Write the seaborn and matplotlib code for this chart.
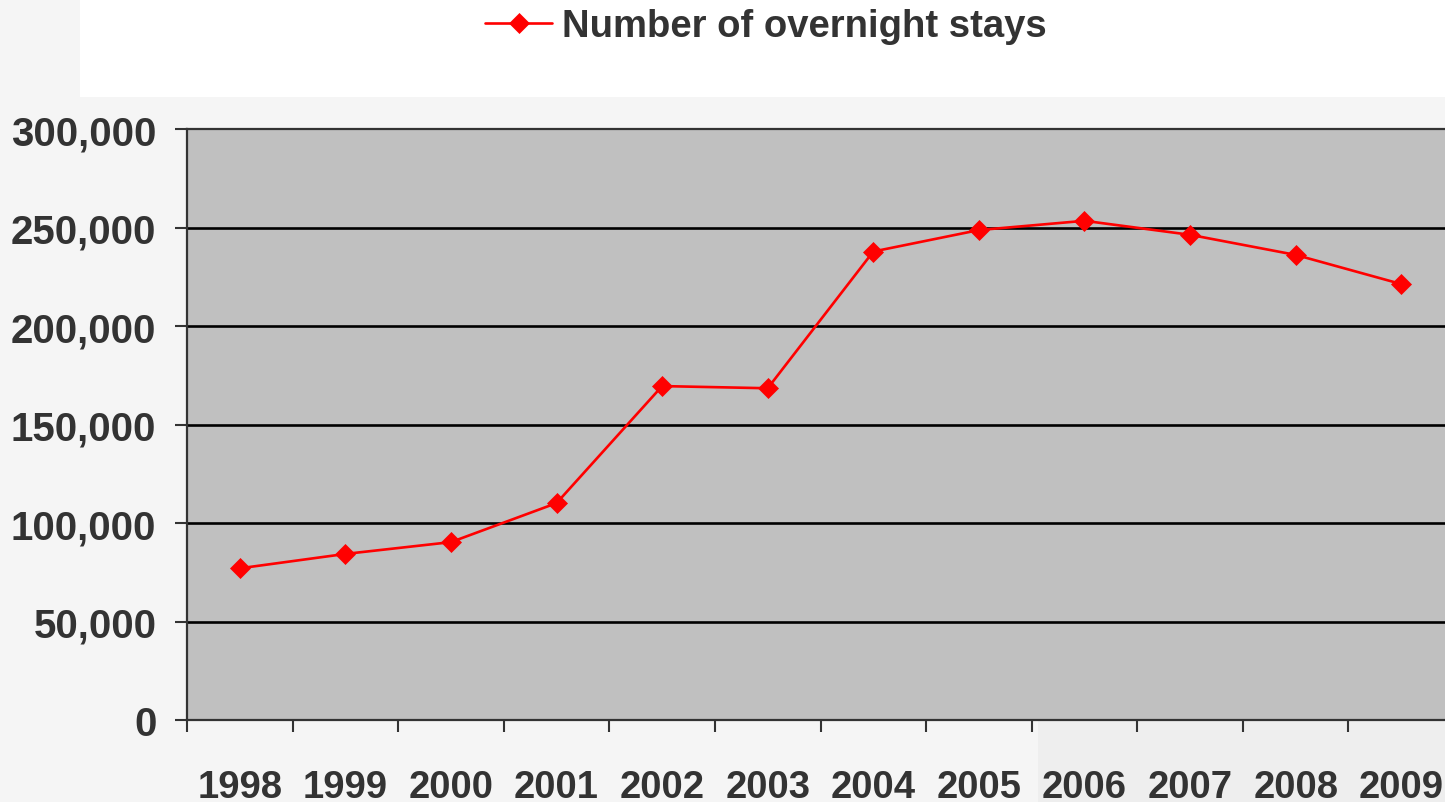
import matplotlib
matplotlib.use("Agg")
import matplotlib.pyplot as plt
import matplotlib.patches as mpatches
from matplotlib.ticker import FuncFormatter, FixedLocator
import seaborn as sns
import pandas as pd
import numpy as np

years = ["1998", "1999", "2000", "2001", "2002", "2003",
         "2004", "2005", "2006", "2007", "2008", "2009"]
stays = [77000, 84300, 90300, 110100, 169500, 168400,
         237800, 248700, 253400, 246300, 236100, 221300]
series_name = "Number of overnight stays"
y_ticks = [0, 50000, 100000, 150000, 200000, 250000, 300000]

sns.set_theme(style="white")
plt.rcParams['font.family'] = ['Liberation Sans', 'DejaVu Sans']
plt.rcParams['font.weight'] = 'bold'

TXT = "#333333"
df = pd.DataFrame({"pos": np.arange(len(years)), "value": stays, "series": series_name})

fig = plt.figure(figsize=(14.45, 8.03), dpi=100)
fig.patch.set_facecolor("#f5f5f5")
# white band at top
fig.patches.append(mpatches.Rectangle((80/1445, 1-98/803), 1, 98/803,
                                      transform=fig.transFigure, facecolor="white",
                                      edgecolor="none", zorder=-5))
# slightly darker lower right area
fig.patches.append(mpatches.Rectangle((1038/1445, 0), 1, 1-722/803,
                                      transform=fig.transFigure, facecolor="#eeeeee",
                                      edgecolor="none", zorder=-5))

ax = fig.add_axes([187/1445, 1-721/803, 1267/1445, 591/803])
ax.set_facecolor("#c0c0c0")

sns.lineplot(data=df, x="pos", y="value", hue="series", palette=["#ff0000"],
             marker="D", markersize=10, markeredgewidth=0.5, markeredgecolor="#ff0000",
             linewidth=1.9, ax=ax, legend=True, zorder=5)

ax.set_xlim(-0.5, len(years) - 0.5)
ax.set_ylim(0, 300000)

ax.yaxis.set_major_locator(FixedLocator(y_ticks))
ax.yaxis.set_major_formatter(FuncFormatter(lambda v, p: f"{int(v):,}"))
for yv in y_ticks[1:-1]:
    ax.axhline(yv, color="black", linewidth=1.9, zorder=2)

ax.set_xticks(np.arange(-0.5, len(years)), minor=False)
ax.set_xticklabels([""] * (len(years) + 1))
ax.set_xticks(np.arange(len(years)), minor=True)
ax.set_xticklabels(years, minor=True)
ax.tick_params(axis="x", which="major", length=8.6, width=1.5, color=TXT, direction="out", bottom=True)
ax.tick_params(axis="x", which="minor", length=0, pad=35, labelsize=27.5, labelcolor=TXT)
ax.tick_params(axis="y", which="major", length=8.6, width=1.5, color=TXT, direction="out",
               left=True, pad=13.5, labelsize=29, labelcolor=TXT)
for lab in ax.get_xticklabels(minor=True) + ax.get_yticklabels():
    lab.set_fontweight("bold")

for side in ["left", "bottom", "top"]:
    ax.spines[side].set_visible(True)
    ax.spines[side].set_color(TXT)
    ax.spines[side].set_linewidth(1.6)
ax.spines["right"].set_visible(False)
ax.set_xlabel("")
ax.set_ylabel("")

handles, labels = ax.get_legend_handles_labels()
ax.get_legend().remove()
leg = fig.legend(handles, labels, loc="center", bbox_to_anchor=(766/1445, 1-27/803),
                 frameon=False, handlelength=1.75, handletextpad=0.26,
                 prop={"weight": "bold", "size": 27.5})
for t in leg.get_texts():
    t.set_color(TXT)

fig.savefig("out.png", dpi=100, facecolor=fig.get_facecolor())
